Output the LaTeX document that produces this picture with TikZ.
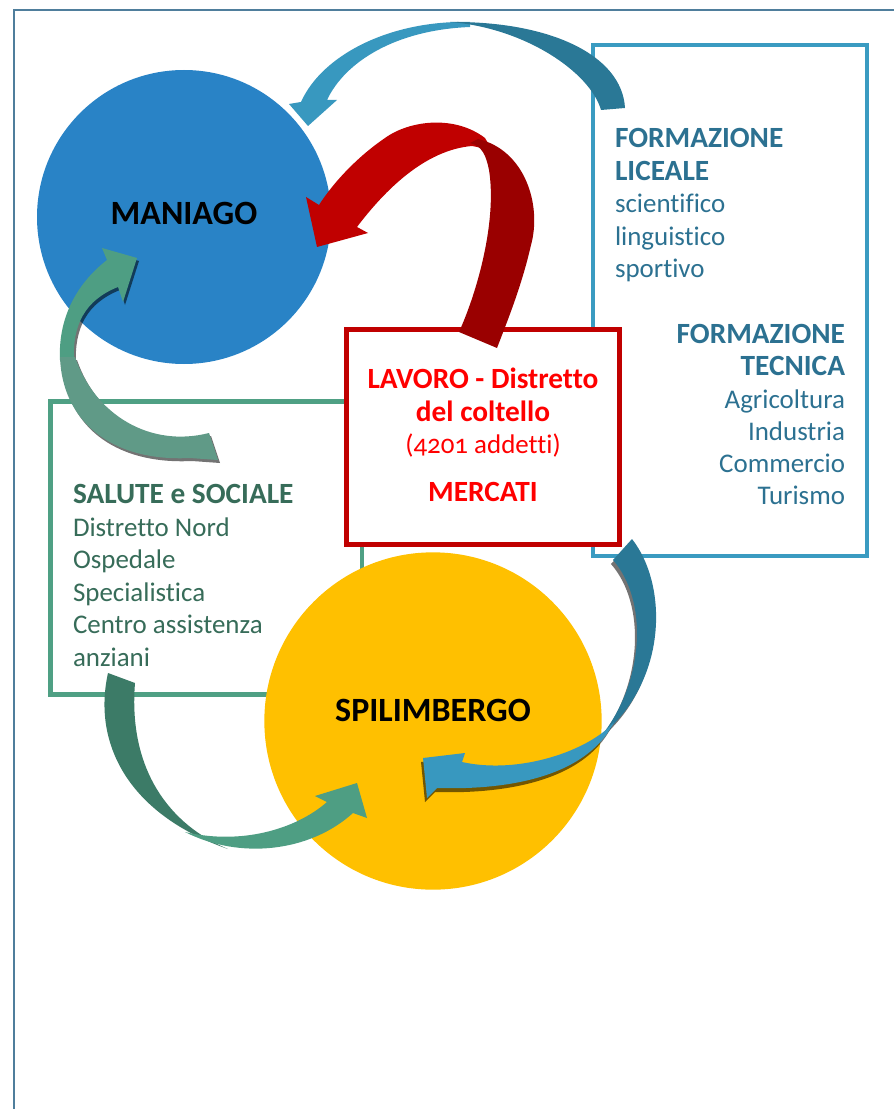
\documentclass[tikz,border=0pt]{standalone}
\usepackage{fontspec}
\setmainfont{Carlito}[Numbers=OldStyle,Ligatures=NoCommon]
\definecolor{framegray}{HTML}{4F7E9C}
\definecolor{manblue}{HTML}{2983C6}
\definecolor{spiyellow}{HTML}{FFC000}
\definecolor{boxblue}{HTML}{3A9BC1}
\definecolor{boxgreen}{HTML}{4FA084}
\definecolor{boxred}{HTML}{C00000}
\definecolor{txtblue}{HTML}{2C7191}
\definecolor{txtgreen}{HTML}{376C59}
\definecolor{txtred}{HTML}{FF0000}
\definecolor{arrbluelight}{HTML}{3898BF}
\definecolor{arrbluedark}{HTML}{2A7896}
\definecolor{arrredlight}{HTML}{C00000}
\definecolor{arrreddark}{HTML}{9A0000}
\definecolor{arrgreenlight}{HTML}{4E9E83}
\definecolor{arrgreendark}{HTML}{3C7B67}
\definecolor{arrgreenmid}{HTML}{609A87}
\usetikzlibrary{positioning}
\begin{document}
\begin{tikzpicture}
[x=0.75pt,y=-0.75pt,
every node/.style={inner sep=0pt,outer sep=0pt},
frameline/.style={draw=framegray,line width=1.1pt},
panel/.style={draw=#1,fill=white},
town/.style={circle,fill=#1},
townlbl/.style={anchor=base,font=\fontsize{25.5}{30}\selectfont\bfseries},
formhead/.style={text=txtblue,font=\fontsize{22}{26}\selectfont\bfseries},
formtxt/.style={text=txtblue,font=\fontsize{20.2}{24}\selectfont},
salhead/.style={text=txtgreen,font=\fontsize{22}{26}\selectfont\bfseries},
saltxt/.style={text=txtgreen,font=\fontsize{20.2}{24}\selectfont},
lavhead/.style={text=txtred,anchor=base,font=\fontsize{22}{26}\selectfont\bfseries},
lavtxt/.style={text=txtred,anchor=base,font=\fontsize{20.2}{24}\selectfont},
shade/.style={fill=black,opacity=0.55}
]
\useasboundingbox (0,0) rectangle (894,1109);
\coordinate (frametop) at (894,10);
\coordinate (framecorner) at (14,10);
\coordinate (framebottom) at (14,1109);
\draw[frameline] (framebottom) -- (framecorner) -- (frametop);

\node[panel=boxgreen,line width=3.4pt,minimum width=233.6pt,minimum height=219.75pt] (salute) at (206.25,548) {};
\node[panel=boxblue,line width=3pt,minimum width=205.5pt,minimum height=383.25pt] (formazione) at (730,300.5) {};
\node[town=manblue,minimum size=220.5pt] (maniago) at (184,217) {};
\node[town=spiyellow,minimum size=253pt] (spilimbergo) at (433,721) {};
\node[panel=boxred,line width=3.75pt,minimum width=205.1pt,minimum height=161.6pt] (lavoro) at (483.25,436.75) {};

\fill[arrbluelight] (470,22) .. controls (390,20) and (322,55) .. (301,102) -- (289,104) -- (308,126) -- (337,100) -- (327,100) .. controls (345,62) and (395,30) .. (470,27) -- cycle;
\fill[arrbluedark] (625,108) .. controls (622,55) and (550,21) .. (450,22) .. controls (525,28) and (590,72) .. (601,110) -- cycle;

\fill[arrredlight] (485,138) .. controls (455,115) and (410,120) .. (385,138) .. controls (360,155) and (335,180) .. (319,205) -- (306,197) -- (317,247) -- (368,233) -- (357,227) .. controls (385,190) and (425,150) .. (472,146) -- (492,150) -- cycle;
\fill[arrreddark] (478,139) .. controls (525,150) and (542,205) .. (531,245) .. controls (522,285) and (507,322) .. (497,348) -- (459,332) .. controls (478,290) and (497,220) .. (489,170) .. controls (486,155) and (482,146) .. (470,143) -- cycle;

\begin{scope}[shift={(2,3)}]
\fill[shade] (60,360) .. controls (58,320) and (75,285) .. (107,260) -- (102,248) -- (137,258) -- (123,302) -- (118,287) .. controls (85,300) and (72,325) .. (74,362) -- cycle;
\fill[shade] (60,357) .. controls (62,420) and (110,462) .. (190,458) -- (218,460) -- (209,433) .. controls (150,448) and (95,415) .. (75,357) -- cycle;
\end{scope}
\fill[arrgreenlight] (60,360) .. controls (58,320) and (75,285) .. (107,260) -- (102,248) -- (137,258) -- (123,302) -- (118,287) .. controls (85,300) and (72,325) .. (74,362) -- cycle;
\fill[arrgreenmid] (60,357) .. controls (62,420) and (110,462) .. (190,458) -- (218,460) -- (209,433) .. controls (150,448) and (95,415) .. (75,357) -- cycle;

\fill[arrgreendark] (108,673) .. controls (92,745) and (130,815) .. (228,849) .. controls (170,825) and (128,770) .. (135,683) -- cycle;
\fill[arrgreenlight] (185,832) .. controls (240,860) and (310,852) .. (353,813) -- (367,818) -- (357,783) -- (315,796) -- (327,802) .. controls (295,830) and (240,845) .. (185,832) -- cycle;

\begin{scope}[shift={(-2,4)}]
\fill[shade] (632,539) .. controls (668,585) and (668,680) .. (602,735) .. controls (645,680) and (648,600) .. (613,560) -- cycle;
\fill[shade] (614,722) .. controls (590,750) and (520,775) .. (462,762) -- (465,753) -- (423,758) -- (427,798) -- (437,788) .. controls (500,790) and (585,780) .. (614,722) -- cycle;
\end{scope}
\fill[arrbluedark] (632,539) .. controls (668,585) and (668,680) .. (602,735) .. controls (645,680) and (648,600) .. (613,560) -- cycle;
\fill[arrbluelight] (614,722) .. controls (590,750) and (520,775) .. (462,762) -- (465,753) -- (423,758) -- (427,798) -- (437,788) .. controls (500,790) and (585,780) .. (614,722) -- cycle;

\node[townlbl] (maniagolbl) at (184,224) {MANIAGO};
\node[townlbl] (spilimbergolbl) at (433,721) {SPILIMBERGO};

\node[formhead,anchor=base west] (lic1) at (615,148) {FORMAZIONE};
\node[formhead,anchor=base west] (lic2) at (615,181) {LICEALE};
\foreach \t [count=\i from 0] in {scientifico,linguistico,sportivo}
  \node[formtxt,anchor=base west] (licitem\i) at (615,213+32.3*\i) {\t};

\node[formhead,anchor=base east] (tec1) at (845,343) {FORMAZIONE};
\node[formhead,anchor=base east] (tec2) at (845,375) {TECNICA};
\foreach \t [count=\i from 0] in {Agricoltura,Industria,Commercio,Turismo}
  \node[formtxt,anchor=base east] (tecitem\i) at (845,408+32.2*\i) {\t};

\node[salhead,anchor=base west] (sal) at (73,503) {SALUTE e SOCIALE};
\foreach \t [count=\i from 0] in {Distretto Nord,Ospedale,Specialistica,Centro assistenza,anziani}
  \node[saltxt,anchor=base west] (salitem\i) at (73,536+32.5*\i) {\t};

\node[lavhead] (lav1) at (483,388) {LAVORO - Distretto};
\node[lavhead] (lav2) at (483,421) {del coltello};
\node[lavtxt] (lav3) at (483,453) {(4201 addetti)};
\node[lavhead] (lav4) at (483,501) {MERCATI};
\end{tikzpicture}
\end{document}
